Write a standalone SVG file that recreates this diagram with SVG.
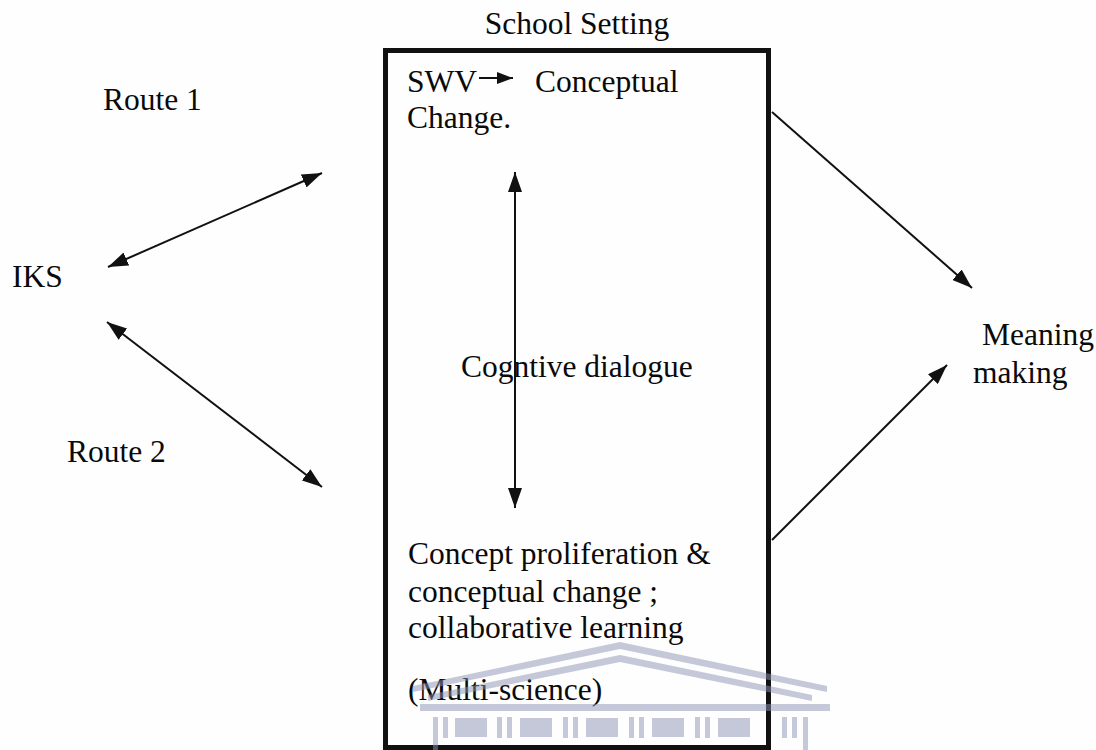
<svg xmlns="http://www.w3.org/2000/svg" width="1096" height="750" viewBox="0 0 1096 750">
<defs>
<style>
text{font-family:"Liberation Serif","Times New Roman",serif;font-size:31.5px;fill:#0a0a0a;}
.conn{stroke:#111;stroke-width:2;fill:none;}
.wm{fill:#8c93b3;}
</style>
<marker id="ah" viewBox="0 0 20 14" markerWidth="20" markerHeight="14" refX="20" refY="7" orient="auto-start-reverse" markerUnits="userSpaceOnUse">
<path d="M0,0 L20,7 L0,14 z" fill="#111"/>
</marker>
<marker id="ahs" viewBox="0 0 16 12" markerWidth="16" markerHeight="12" refX="16" refY="6" orient="auto" markerUnits="userSpaceOnUse">
<path d="M0,0 L16,6 L0,12 z" fill="#111"/>
</marker>
</defs>
<rect width="1096" height="750" fill="#fefefe"/>

<g id="school-setting-title"><text x="577" y="34" text-anchor="middle">School Setting</text></g>

<g id="school-box">
<rect x="385.5" y="50.5" width="383" height="697" fill="none" stroke="#111" stroke-width="5"/>
</g>

<g id="swv-node">
<text x="407" y="92">SWV</text>
<line class="conn" x1="479" y1="78" x2="513" y2="78" stroke-width="2.5" marker-end="url(#ahs)"/>
<text x="535" y="92">Conceptual</text>
<text x="407" y="128">Change.</text>
</g>

<g id="dialogue-node"><text x="461" y="377">Cogntive dialogue</text></g>

<g id="proliferation-node">
<text x="408" y="564">Concept proliferation &amp;</text>
<text x="408" y="602">conceptual change ;</text>
<text x="408" y="638">collaborative learning</text>
<text x="408" y="700">(Multi-science)</text>
</g>

<g id="route1-label"><text x="103" y="110">Route 1</text></g>
<g id="route2-label"><text x="67" y="462">Route 2</text></g>
<g id="iks-node"><text x="12" y="287">IKS</text></g>
<g id="meaning-node">
<text x="982" y="345">Meaning</text>
<text x="973" y="383">making</text>
</g>

<g id="connectors">
<line class="conn" x1="108" y1="267" x2="322" y2="173" marker-start="url(#ah)" marker-end="url(#ah)"/>
<line class="conn" x1="107" y1="322" x2="322" y2="487" marker-start="url(#ah)" marker-end="url(#ah)"/>
<line class="conn" x1="515" y1="172" x2="515" y2="508" marker-start="url(#ah)" marker-end="url(#ah)"/>
<line class="conn" x1="772" y1="112" x2="972" y2="288" marker-end="url(#ah)"/>
<line class="conn" x1="772" y1="540" x2="947" y2="365" marker-end="url(#ah)"/>
</g>

<g id="watermark" opacity="0.5">
<path class="wm" d="M413,686 L620,642 L827,686 L827,692 L620,649 L413,692 z"/>
<path class="wm" d="M428,695 L620,655 L812,695 L812,701 L620,662 L428,701 z"/>
<rect class="wm" x="420" y="704" width="410" height="7"/>
<g class="wm">
<rect x="433" y="717" width="5" height="33"/>
<rect x="443" y="717" width="5" height="21"/>
<rect x="455" y="718" width="32" height="19"/>
<rect x="497" y="717" width="5" height="21"/>
<rect x="507" y="717" width="5" height="21"/>
<rect x="520" y="718" width="32" height="19"/>
<rect x="563" y="717" width="5" height="21"/>
<rect x="573" y="717" width="5" height="21"/>
<rect x="586" y="718" width="32" height="19"/>
<rect x="629" y="717" width="5" height="21"/>
<rect x="639" y="717" width="5" height="21"/>
<rect x="652" y="718" width="32" height="19"/>
<rect x="695" y="717" width="5" height="21"/>
<rect x="705" y="717" width="5" height="21"/>
<rect x="718" y="718" width="32" height="19"/>
<rect x="782" y="717" width="5" height="21"/>
<rect x="792" y="717" width="5" height="21"/>
<rect x="803" y="717" width="5" height="33"/>
</g>
</g>
</svg>
